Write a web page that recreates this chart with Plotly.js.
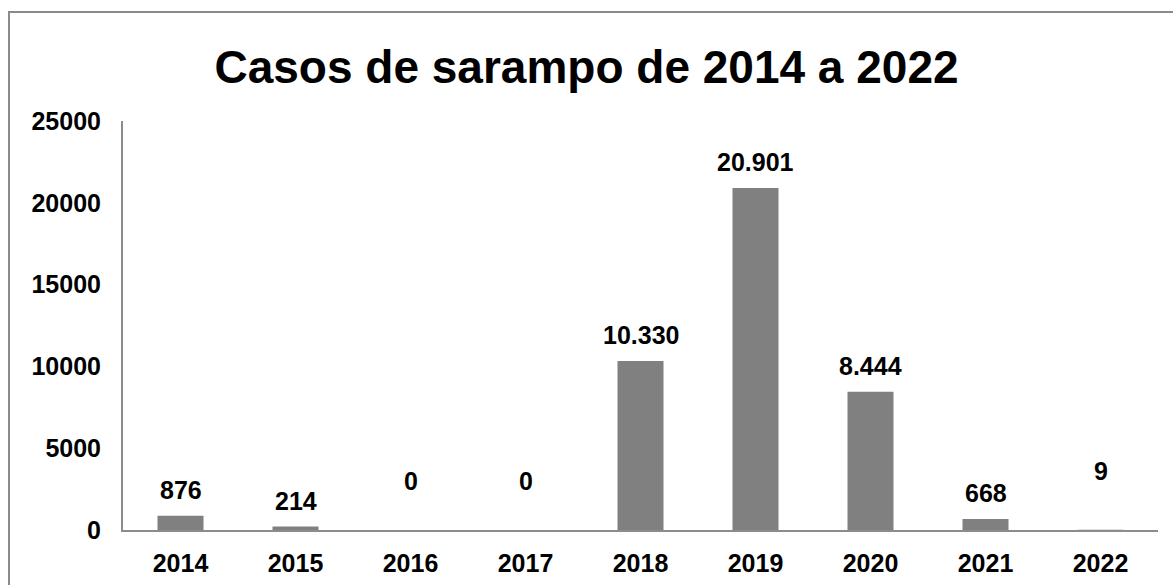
<!DOCTYPE html>
<html>
<head>
<meta charset="utf-8">
<script src="https://cdn.plot.ly/plotly-3.0.1.min.js"></script>
<style>
  html, body { margin: 0; padding: 0; background: #fff; overflow: hidden; }
  #frame { position: absolute; left: 8px; top: 11px; width: 1200px; height: 620px; border: 2px solid #8a8a8a; box-sizing: border-box; }
  #chart { position: absolute; left: 0; top: 0; width: 1173px; height: 585px; }
</style>
</head>
<body>
<div id="frame"></div>
<div id="chart"></div>
<script>
// Data
const years = ['2014', '2015', '2016', '2017', '2018', '2019', '2020', '2021', '2022'];
const cases = [876, 214, 0, 0, 10330, 20901, 8444, 668, 9];
const caseLabels = ['876', '214', '0', '0', '10.330', '20.901', '8.444', '668', '9'];
const yTickValues = [0, 5000, 10000, 15000, 20000, 25000];

// Label lift above bar top (pixels) — layout styling
const labelLiftPx = [26, 26, 49, 49, 26, 26, 26, 26, 59];

const FONT = 'Liberation Sans, Arial, sans-serif';

const annotations = years.map((yr, i) => ({
  x: i, y: cases[i], xref: 'x', yref: 'y',
  text: '<b>' + caseLabels[i] + '</b>',
  showarrow: false, yanchor: 'middle', xanchor: 'center',
  yshift: labelLiftPx[i],
  font: { family: FONT, size: 25, color: '#000' }
}));

const trace = {
  type: 'bar', x: years, y: cases, width: 0.4,
  marker: { color: '#808080' },
  hoverinfo: 'none'
};

const layout = {
  width: 1173, height: 585,
  margin: { l: 123, r: 15, t: 121, b: 55 },
  paper_bgcolor: 'rgba(0,0,0,0)', plot_bgcolor: 'rgba(0,0,0,0)',
  showlegend: false,
  title: {
    text: '<b>Casos de sarampo de 2014 a 2022</b>',
    font: { family: FONT, size: 46, color: '#000' },
    x: 0.5, xref: 'container', xanchor: 'center',
    y: 1 - 67 / 585, yref: 'container', yanchor: 'middle'
  },
  xaxis: {
    type: 'category', range: [-0.5, 8.5], showgrid: false, zeroline: false,
    showline: true, linecolor: '#8c8c8c', linewidth: 2, ticks: '',
    ticklabelstandoff: 10,
    tickfont: { family: FONT, size: 25, color: '#000' }, tickprefix: '<b>', ticksuffix: '</b>'
  },
  yaxis: {
    range: [0, 25000], tickvals: yTickValues, ticktext: yTickValues.map(v => '<b>' + v + '</b>'),
    showgrid: false, zeroline: false, showline: true, linecolor: '#8c8c8c', linewidth: 2,
    ticks: '', ticklabelstandoff: 15,
    tickfont: { family: FONT, size: 25, color: '#000' }
  },
  annotations: annotations
};

Plotly.newPlot('chart', [trace], layout, { displayModeBar: false, staticPlot: true });
</script>
</body>
</html>
